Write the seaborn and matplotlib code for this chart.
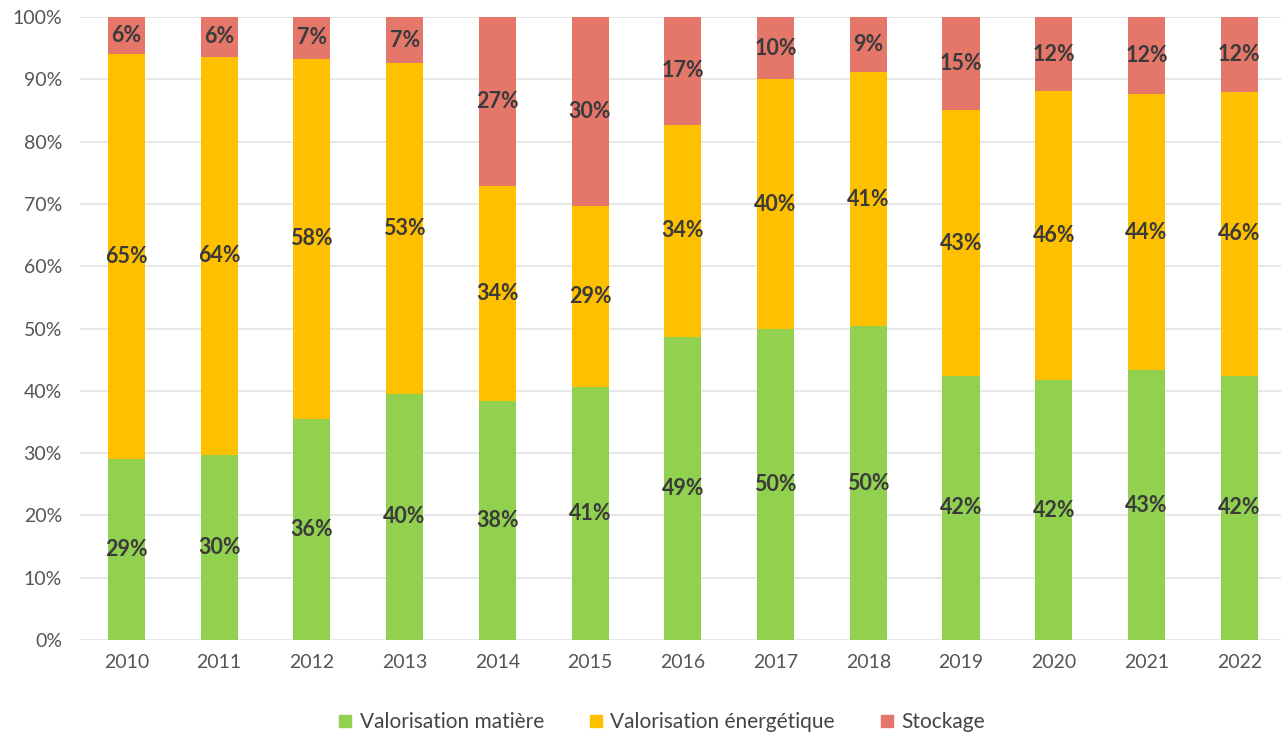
import matplotlib
matplotlib.use("Agg")
import matplotlib.pyplot as plt
import seaborn as sns
import numpy as np
from matplotlib.lines import Line2D
from matplotlib.ticker import FuncFormatter

# Données (parts en %)
years = ['2010', '2011', '2012', '2013', '2014', '2015', '2016',
         '2017', '2018', '2019', '2020', '2021', '2022']
matiere = [29.0, 29.7, 35.5, 39.5, 38.4, 40.6, 48.7, 49.9, 50.4, 42.4, 41.7, 43.3, 42.4]
energetique = [65.1, 63.9, 57.8, 53.1, 34.4, 29.0, 34.0, 40.1, 40.7, 42.6, 46.4, 44.3, 45.6]
stockage = [5.9, 6.4, 6.7, 7.4, 27.2, 30.4, 17.3, 10.0, 8.9, 15.0, 11.9, 12.4, 12.0]

series_names = ['Valorisation matière', 'Valorisation énergétique', 'Stockage']
colors = ['#92D050', '#FFC000', '#E5776A']

sns.set_style("white")
plt.rcParams['font.family'] = ['Lato', 'DejaVu Sans']

fig = plt.figure(figsize=(12.81, 7.38), dpi=100)
ax = fig.add_axes([80 / 1281, 1 - 640 / 738, 1 - 80 / 1281, (640 - 17) / 738])

bottom = np.zeros(len(years))
for vals, col in zip([matiere, energetique, stockage], colors):
    sns.barplot(x=years, y=vals, bottom=bottom, color=col, saturation=1,
                width=0.4, errorbar=None, ax=ax, zorder=2, linewidth=0)
    bottom = bottom + np.array(vals)

for cont, vals in zip(ax.containers, [matiere, energetique, stockage]):
    ax.bar_label(cont, labels=[f"{round(v)}%" for v in vals], label_type='center',
                 fontsize=15.5, fontweight='bold', color='#3a3a3a')

ax.set_ylim(0, 100)
ax.set_xlim(-0.5, 12.45)
ax.set_yticks(range(0, 101, 10))
ax.yaxis.set_major_formatter(FuncFormatter(lambda v, p: f"{v:.0f}%"))
ax.grid(axis='y', color='#e3e3e3', linewidth=1.2)
ax.set_axisbelow(True)
for s in ax.spines.values():
    s.set_visible(False)
ax.tick_params(axis='y', length=0, pad=13, labelsize=14, labelcolor='#555555')
ax.tick_params(axis='x', length=0, pad=10, labelsize=14, labelcolor='#555555')
ax.set_xlabel('')
ax.set_ylabel('')

handles = [Line2D([], [], marker='s', linestyle='none', markersize=9,
                  markerfacecolor=c, markeredgecolor=c) for c in colors]
fig.legend(handles, series_names, loc='center', bbox_to_anchor=(662 / 1281, 1 - 722 / 738),
           ncol=3, frameon=False, fontsize=15, handlelength=0.6, handletextpad=0.4,
           columnspacing=2.2, labelcolor='#444444')

fig.savefig('out.png', dpi=100)
